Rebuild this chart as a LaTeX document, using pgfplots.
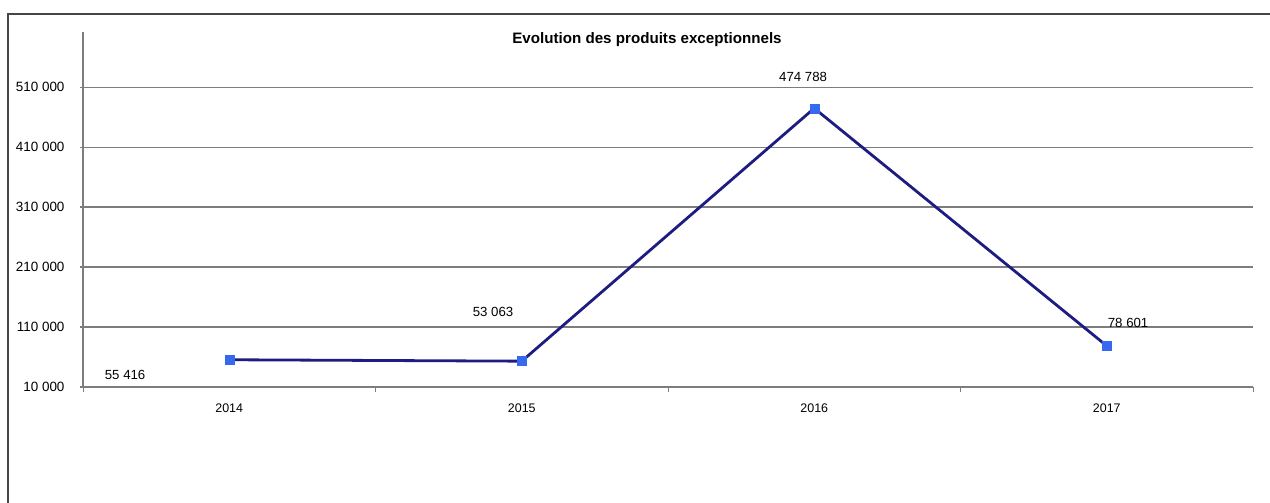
\documentclass[border=0pt]{standalone}
\usepackage{fontspec}
\setmainfont{Liberation Sans}
\usepackage{pgfplots}
\pgfplotsset{compat=1.18}
\definecolor{linec}{RGB}{30,28,128}
\definecolor{markc}{RGB}{55,105,240}
\definecolor{gridc}{RGB}{125,125,125}
\definecolor{framec}{RGB}{70,70,70}
\begin{document}
\begin{tikzpicture}[x=1bp,y=1bp]
\useasboundingbox (0,0) rectangle (1270,503);
\fill[white] (0,0) rectangle (1270,503);
\draw[framec,line width=1.6bp] (8,0) -- (8,489) -- (1270,489);
\begin{axis}[
  at={(83bp,116bp)}, anchor=south west,
  scale only axis, width=1170bp, height=355bp,
  xmin=-0.5, xmax=3.5, ymin=10000, ymax=602000,
  scaled y ticks=false,
  axis x line*=bottom, axis y line*=left,
  axis line style={gridc, line width=1.2bp, -},
  x axis line style={line width=2bp},
  xtick={0,1,2,3}, xticklabels={2014,2015,2016,2017},
  major x tick style={draw=none},
  minor xtick={-0.5,0.5,1.5,2.5,3.5},
  minor x tick style={gridc, line width=1bp},
  minor tick length=5bp,
  ytick={10000,110000,210000,310000,410000,510000},
  yticklabels={10 000,110 000,210 000,310 000,410 000,510 000},
  major y tick style={gridc, line width=1.2bp},
  major tick length=3bp,
  tick align=outside,
  ymajorgrids, grid style={gridc, line width=1.2bp},
  yticklabel style={font=\fontsize{13.5}{15}\selectfont, xshift=-12bp},
  xticklabel style={font=\fontsize{12.5}{14}\selectfont, yshift=-10bp},
  clip=false,
]
\addplot[linec, line width=2.8bp, mark=square*, mark size=4.5bp,
  mark options={markc, draw=markc, line width=0.5bp}]
  coordinates {(0,55416) (1,53063) (2,474788) (3,78601)};
\node[font=\fontsize{13.3}{15}\selectfont] at (axis cs:-0.356,30010) {55 416};
\node[font=\fontsize{13.3}{15}\selectfont] at (axis cs:0.902,135060) {53 063};
\node[font=\fontsize{13.3}{15}\selectfont] at (axis cs:1.962,526900) {474 788};
\node[font=\fontsize{13.3}{15}\selectfont] at (axis cs:3.073,116720) {78 601};
\end{axis}
\node[font=\bfseries\fontsize{15.2}{17}\selectfont] at (647,463) {Evolution des produits exceptionnels};
\end{tikzpicture}
\end{document}
